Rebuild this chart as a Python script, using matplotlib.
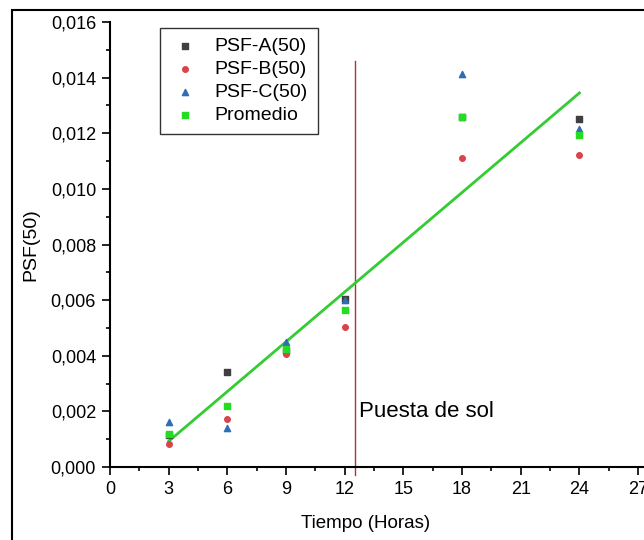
import numpy as np
import matplotlib
matplotlib.use('Agg')
import matplotlib.pyplot as plt
from matplotlib.ticker import MultipleLocator, FuncFormatter
from matplotlib.patches import Rectangle

plt.rcParams['font.family'] = ['Liberation Sans', 'DejaVu Sans']

# data
horas = [3, 6, 9, 12, 18, 24]
psf_a = [0.00116, 0.00342, 0.00417, 0.00605, 0.01260, 0.01250]
psf_b = [0.00082, 0.00173, 0.00405, 0.00502, 0.01112, 0.01123]
psf_c = [0.00161, 0.00140, 0.00449, 0.00600, 0.01412, 0.01215]
promedio = [0.00118, 0.00218, 0.00423, 0.00563, 0.01260, 0.01194]
puesta_sol = 12.5

fig = plt.figure(figsize=(6.44, 5.40), dpi=100)
ax = fig.add_axes([110/644, (540-467)/540, 534/644, 445/540])

# outer frame (cropped)
fig.patches.append(Rectangle((12/644, -0.05), 1.2, 1 - 10/540 + 0.05,
                             transform=fig.transFigure, fill=False,
                             edgecolor='black', linewidth=1.5))

ax.scatter(horas, psf_a, marker='s', s=14, color='#3f3f3f', label='PSF-A(50)', zorder=3)
ax.scatter(horas, psf_b, marker='o', s=16, color='#d9434b', label='PSF-B(50)', zorder=3)
ax.scatter(horas, psf_c, marker='^', s=20, color='#2f6db5', label='PSF-C(50)', zorder=3)
ax.scatter(horas, promedio, marker='s', s=16, color='#22dd22', label='Promedio', zorder=4)

# ajuste lineal del promedio
m, b = np.polyfit(horas, promedio, 1)
xf = np.array([horas[0], horas[-1]])
ax.plot(xf, m * xf + b, color='#33cc33', linewidth=2, zorder=2)

ax.plot([puesta_sol, puesta_sol], [-0.0003, 0.0146], color='#b03040',
        linewidth=1, clip_on=False, zorder=1)
ax.text(12.75, 0.0020, 'Puesta de sol', fontsize=16, va='center')

ax.set_xlim(0, 27.3)
ax.set_ylim(0, 0.016)
ax.xaxis.set_major_locator(MultipleLocator(3))
ax.xaxis.set_minor_locator(MultipleLocator(1.5))
ax.yaxis.set_major_locator(MultipleLocator(0.002))
ax.yaxis.set_minor_locator(MultipleLocator(0.001))
ax.yaxis.set_major_formatter(FuncFormatter(lambda v, p: f'{v:.3f}'.replace('.', ',')))
ax.tick_params(which='major', direction='out', length=6, width=1.2, labelsize=13, pad=4)
ax.tick_params(which='minor', direction='out', length=3, width=1.2)

for s in ['top', 'right']:
    ax.spines[s].set_visible(False)
for s in ['left', 'bottom']:
    ax.spines[s].set_linewidth(1.5)

ax.set_xlabel('Tiempo (Horas)', fontsize=13.5, labelpad=12)
ax.xaxis.label.set_x(0.479)
ax.set_ylabel('PSF(50)', fontsize=14, labelpad=8)

leg = ax.legend(loc='upper left', bbox_to_anchor=(0.094, 0.9865), fontsize=14,
                frameon=True, fancybox=False, edgecolor='black',
                handletextpad=0.7, borderpad=0.5, labelspacing=0.27,
                handlelength=1.6, borderaxespad=0, markerscale=1.0)
leg.get_frame().set_linewidth(1)

fig.savefig('out.png', dpi=100)
